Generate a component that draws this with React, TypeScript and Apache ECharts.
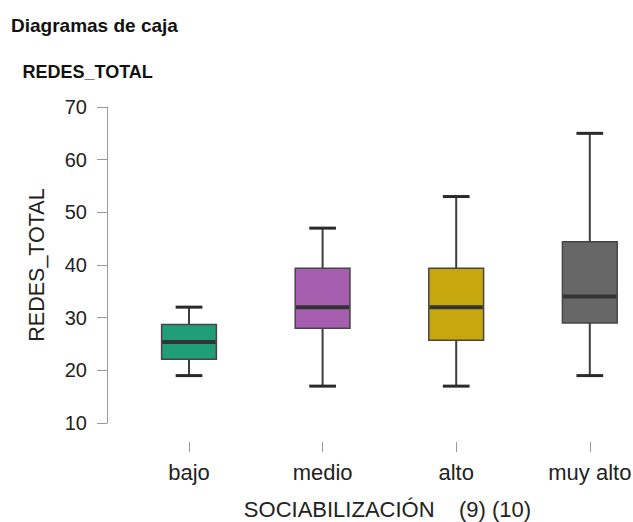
import React, { useEffect, useRef } from "react";
import * as echarts from "echarts";

const categories = ["bajo", "medio", "alto", "muy alto"];
const lowWhisker = [19, 17, 17, 19];
const q1 = [22.1, 28, 25.7, 29];
const median = [25.4, 32, 32, 34];
const q3 = [28.7, 39.4, 39.4, 44.4];
const highWhisker = [32, 47, 53, 65];
const boxColors = ["#1f9e78", "#a55fae", "#c6a80e", "#676767"];
const yMin = 10;
const yMax = 70;
const yInterval = 10;

const titleText = "Diagramas de caja";
const subtitleText = "REDES_TOTAL";
const yName = "REDES_TOTAL";
const xName = "SOCIABILIZACIÓN    (9) (10)";

const FONT = "'Liberation Sans', Arial, sans-serif";

export default function App() {
  const ref = useRef<HTMLDivElement>(null);
  useEffect(() => {
    if (!ref.current) return;
    const chart = echarts.init(ref.current, null, { renderer: "svg" });
    const data = categories.map((_, i) => [i, lowWhisker[i], q1[i], median[i], q3[i], highWhisker[i]]);
    const stroke = "#3d3d3d";
    chart.setOption({
      animation: false,
      backgroundColor: "#ffffff",
      textStyle: { fontFamily: FONT },
      grid: { left: 189, width: 400.8, top: 107, height: 316, containLabel: false, outerBoundsMode: "none" },
      xAxis: {
        type: "category",
        data: categories,
        boundaryGap: false,
        offset: 19,
        axisLine: { show: false },
        axisTick: { show: true, length: 10, lineStyle: { color: "#9a9a9a", width: 1 } },
        axisLabel: { fontSize: 22, color: "#222222", margin: 19, fontFamily: FONT, hideOverlap: false },
        splitLine: { show: false },
      },
      yAxis: {
        type: "value",
        min: yMin,
        max: yMax,
        interval: yInterval,
        offset: 82,
        axisLine: { show: true, lineStyle: { color: "#9a9a9a", width: 1 } },
        axisTick: { show: true, length: 10, lineStyle: { color: "#9a9a9a", width: 1 } },
        axisLabel: { fontSize: 20, color: "#222222", margin: 20, fontFamily: FONT },
        splitLine: { show: false },
      },
      graphic: [
        {
          type: "text",
          x: 11,
          y: 25,
          style: { text: titleText, font: `bold 19px ${FONT}`, fill: "#111111", textAlign: "left", align: "left", textVerticalAlign: "middle", verticalAlign: "middle" },
        },
        {
          type: "text",
          x: 22.5,
          y: 72,
          style: { text: subtitleText, font: `bold 18px ${FONT}`, fill: "#111111", textAlign: "left", align: "left", textVerticalAlign: "middle", verticalAlign: "middle" },
        },
        {
          type: "text",
          x: 36.5,
          y: 265,
          rotation: Math.PI / 2,
          style: { text: yName, font: `21.5px ${FONT}`, fill: "#222222", textAlign: "center", align: "center", textVerticalAlign: "middle", verticalAlign: "middle" },
        },
        {
          type: "text",
          x: 387.5,
          y: 509,
          style: { text: xName, font: `22px ${FONT}`, fill: "#222222", textAlign: "center", align: "center", textVerticalAlign: "middle", verticalAlign: "middle" },
        },
      ],
      series: [
        {
          type: "custom",
          data,
          clip: false,
          encode: { x: 0, y: [1, 2, 3, 4, 5] },
          renderItem: (params: any, api: any) => {
            const xi = api.value(0);
            const pLow = api.coord([xi, api.value(1)]);
            const pQ1 = api.coord([xi, api.value(2)]);
            const pMed = api.coord([xi, api.value(3)]);
            const pQ3 = api.coord([xi, api.value(4)]);
            const pHigh = api.coord([xi, api.value(5)]);
            const band = api.size([1, 0])[0];
            const bw = band * 0.41;
            const cw = band * 0.2;
            const cx = pMed[0];
            return {
              type: "group",
              children: [
                { type: "line", shape: { x1: cx, y1: pQ3[1], x2: cx, y2: pHigh[1] }, style: { stroke, lineWidth: 2 } },
                { type: "line", shape: { x1: cx, y1: pQ1[1], x2: cx, y2: pLow[1] }, style: { stroke, lineWidth: 2 } },
                { type: "line", shape: { x1: cx - cw / 2, y1: pHigh[1], x2: cx + cw / 2, y2: pHigh[1] }, style: { stroke: "#2a2a2a", lineWidth: 3 } },
                { type: "line", shape: { x1: cx - cw / 2, y1: pLow[1], x2: cx + cw / 2, y2: pLow[1] }, style: { stroke: "#2a2a2a", lineWidth: 3 } },
                {
                  type: "rect",
                  shape: { x: cx - bw / 2, y: pQ3[1], width: bw, height: pQ1[1] - pQ3[1] },
                  style: { fill: boxColors[params.dataIndex], stroke: "#454545", lineWidth: 1.5 },
                },
                { type: "line", shape: { x1: cx - bw / 2 + 0.75, y1: pMed[1], x2: cx + bw / 2 - 0.75, y2: pMed[1] }, style: { stroke: "#333333", lineWidth: 4 } },
              ],
            };
          },
        },
      ],
    });
    return () => chart.dispose();
  }, []);
  return <div ref={ref} style={{ position: "fixed", left: 0, top: 0, width: 633, height: 522 }} />;
}
